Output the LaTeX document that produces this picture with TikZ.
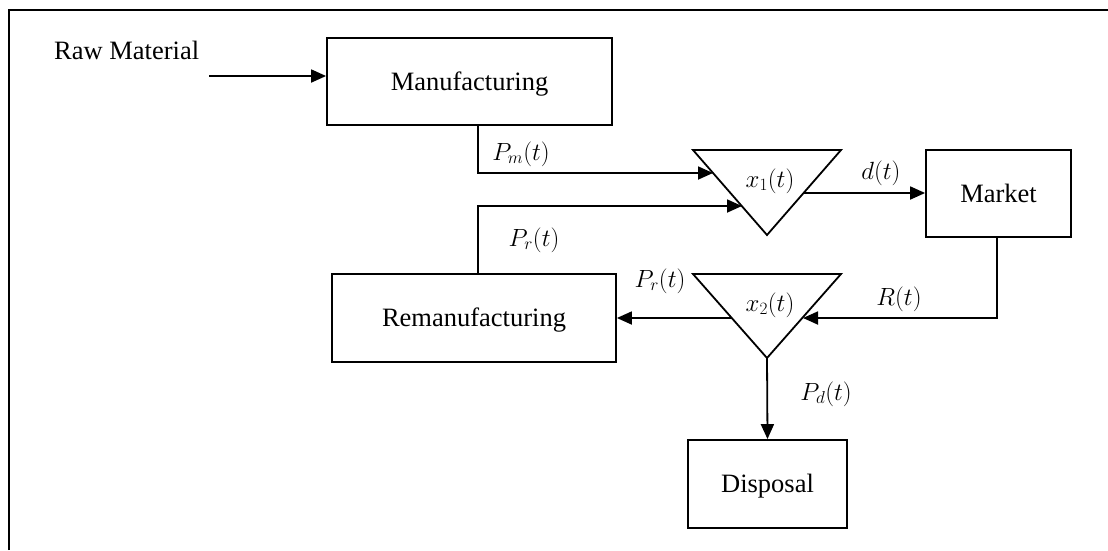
\documentclass[tikz,border=0pt]{standalone}
\usepackage{fontspec}
\setmainfont{Liberation Serif}
\usetikzlibrary{arrows.meta}
\begin{document}
\begin{tikzpicture}[x=1pt,y=-1pt,
  txt/.style={font=\fontsize{26.5}{32}\selectfont},
  box/.style={draw, line width=1.8pt, inner sep=0pt, txt, text height=17.5pt, text depth=0pt},
  link/.style={line width=1.8pt, line join=miter},
  flow/.style={link, -{Triangle[length=15pt,width=13pt]}},
  lbl/.style={inner sep=0pt, txt},
]
\useasboundingbox (0,0) rectangle (1108,550);
% outer frame (top and left edges only)
\draw[line width=2.6pt] (9,550) -- (9,10) -- (1108,10);

% boxes
\node[box, minimum width=285pt, minimum height=87pt] (manu)   at (469.5,81.5) {Manufacturing};
\node[box, minimum width=284pt, minimum height=88pt] (reman)  at (474,318)   {Remanufacturing};
\node[box, minimum width=145pt, minimum height=87pt] (market) at (998.5,193.5) {Market};
\node[box, minimum width=159pt, minimum height=88pt] (disp)   at (767.5,484) {Disposal};

% inventory triangles
\coordinate (t1l) at (693,150); \coordinate (t1r) at (841,150); \coordinate (t1b) at (767,235);
\coordinate (t2l) at (693,274); \coordinate (t2r) at (841,274); \coordinate (t2b) at (767,358);
\draw[link] (t1l) -- (t1r) -- (t1b) -- cycle;
\draw[link] (t2l) -- (t2r) -- (t2b) -- cycle;
\node[lbl] (x1) at (770,181) {$x_1(t)$};
\node[lbl] (x2) at (770,305) {$x_2(t)$};

% connector corner points and ends on the triangle edges
\coordinate (rawin) at (209,76);
\coordinate (pmx) at (478,173);
\coordinate (t1in1) at (713,173);
\coordinate (prx) at (478,206);
\coordinate (t1in2) at (742,206);
\coordinate (t1out) at (804,193);
\coordinate (rx) at (997,318);
\coordinate (t2in) at (803,318);
\coordinate (t2out) at (732,318);

% flows
\node[lbl, anchor=west] (raw) at (54,50) {Raw Material};
\draw[flow] (rawin) -- (rawin -| manu.west);
\draw[flow] (manu.south -| pmx) -- (pmx) -- (t1in1);
\draw[flow] (reman.north -| prx) -- (prx) -- (t1in2);
\draw[flow] (t1out) -- (t1out -| market.west);
\draw[flow] (market.south -| rx) -- (rx) -- (t2in);
\draw[flow] (t2out) -- (t2out -| reman.east);
\draw[flow] (t2b) -- (disp.north);

% flow labels
\node[lbl] (pm)  at (521,154) {$P_m(t)$};
\node[lbl] (pr1) at (534,240) {$P_r(t)$};
\node[lbl] (pr2) at (660,281) {$P_r(t)$};
\node[lbl] (d)   at (881,173) {$d(t)$};
\node[lbl] (r)   at (899,299) {$R(t)$};
\node[lbl] (pd)  at (826,394) {$P_d(t)$};
\end{tikzpicture}
\end{document}
